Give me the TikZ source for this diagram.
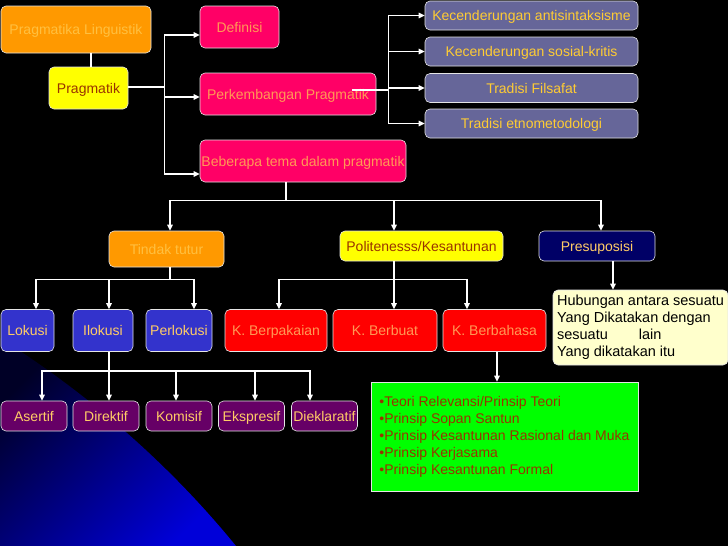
\documentclass[tikz,border=0pt]{standalone}
\usepackage{fontspec}
\setmainfont{Liberation Sans}
\usetikzlibrary{arrows.meta}

\definecolor{boxorange}{HTML}{FF9900}
\definecolor{txtorange}{HTML}{FFC040}
\definecolor{boxyellow}{HTML}{FFFF00}
\definecolor{txtbrown}{HTML}{993300}
\definecolor{boxmagenta}{HTML}{FF0066}
\definecolor{txtpeach}{HTML}{FF9955}
\definecolor{boxslate}{HTML}{666699}
\definecolor{txtgold}{HTML}{FFCC33}
\definecolor{boxnavy}{HTML}{000066}
\definecolor{txtcream}{HTML}{FFCC66}
\definecolor{boxblue}{HTML}{3333CC}
\definecolor{boxred}{HTML}{FF0000}
\definecolor{boxplum}{HTML}{660066}
\definecolor{boxivory}{HTML}{FFFFCC}
\definecolor{boxgreen}{HTML}{00FF00}

\begin{document}
\begin{tikzpicture}[x=1pt, y=-1pt, >={Triangle[length=6pt,width=5.5pt]},
    box/.style={rounded corners=5pt, draw=white!80!gray, line width=0.6pt,
        inner sep=0pt, align=center, font=\fontsize{14}{17}\selectfont},
    oneline/.style={box, text height=11pt, text depth=0.5pt},
    orangebox/.style={oneline, fill=boxorange, text=txtorange},
    yellowbox/.style={oneline, fill=boxyellow, text=txtbrown},
    magentabox/.style={oneline, fill=boxmagenta, text=txtpeach},
    slatebox/.style={oneline, fill=boxslate, text=txtgold, minimum width=213pt, minimum height=29pt},
    navybox/.style={oneline, fill=boxnavy, text=txtcream},
    bluebox/.style={oneline, fill=boxblue, text=txtcream, minimum height=42pt},
    redbox/.style={oneline, fill=boxred, text=txtpeach, minimum height=42pt},
    plumbox/.style={oneline, fill=boxplum, text=txtcream, minimum width=66pt, minimum height=30pt},
    wire/.style={draw=white, line width=1.6pt},
    arr/.style={wire, ->}]

    % --- BACKGROUND ---
    \useasboundingbox (0,0) rectangle (728,546);
    \fill[black] (0,0) rectangle (728,546);
    \shade[left color=blue!15!black, right color=blue!85!black, shading angle=45]
        (0,338) .. controls (90,395) and (170,465) .. (236,546) -- (0,546) -- cycle;

    % --- TOP LEFT ---
    \node[orangebox, minimum width=150pt, minimum height=47pt] (ling) at (76,29.5) {Pragmatika Linguistik};
    \node[yellowbox, minimum width=79pt, minimum height=42pt] (prag) at (88.5,88) {Pragmatik};

    % --- PINK BRANCH ---
    \node[magentabox, minimum width=79pt, minimum height=42pt] (def) at (239.5,27) {Definisi};
    \node[magentabox, minimum width=176pt, minimum height=42pt] (perk) at (288,94) {Perkembangan Pragmatik};
    \node[magentabox, minimum width=206pt, minimum height=42pt] (tema) at (303,161) {Beberapa tema dalam pragmatik};

    % --- TRENDS ---
    \node[slatebox] (k1) at (531.5,15.5) {Kecenderungan antisintaksisme};
    \node[slatebox] (k2) at (531.5,51.5) {Kecenderungan sosial-kritis};
    \node[slatebox] (k3) at (531.5,88) {Tradisi Filsafat};
    \node[slatebox] (k4) at (531.5,123.5) {Tradisi etnometodologi};

    % --- THEMES ---
    \node[orangebox, minimum width=115pt, minimum height=36pt] (tindak) at (166.5,249) {Tindak tutur};
    \node[yellowbox, minimum width=163pt, minimum height=30pt] (polite) at (421.5,246) {Politenesss/Kesantunan};
    \node[navybox, minimum width=116pt, minimum height=30pt] (presup) at (597,246) {Presuposisi};

    % --- SPEECH ACTS ---
    \node[bluebox, minimum width=53pt] (lok) at (27.5,330.5) {Lokusi};
    \node[bluebox, minimum width=60pt] (ilok) at (103,330.5) {Ilokusi};
    \node[bluebox, minimum width=66pt] (perl) at (179,330.5) {Perlokusi};

    % --- POLITENESS KINDS ---
    \node[redbox, minimum width=102pt] (pakai) at (276,330.5) {K. Berpakaian};
    \node[redbox, minimum width=104pt] (buat) at (385,330.5) {K. Berbuat};
    \node[redbox, minimum width=103pt] (bahasa) at (494.5,330.5) {K. Berbahasa};

    % --- PRESUPPOSITION NOTE ---
    \node[box, fill=boxivory, text=black, align=left, font=\fontsize{14.5}{17}\selectfont,
        minimum width=175pt, minimum height=75pt]
        (hub) at (640.5,327.5) {Hubungan antara sesuatu\\Yang Dikatakan dengan\\sesuatu\hspace*{31pt}lain\\Yang dikatakan itu};

    % --- ILLOCUTION KINDS ---
    \node[plumbox] (aser) at (34,416) {Asertif};
    \node[plumbox] (direk) at (106,416) {Direktif};
    \node[plumbox] (komis) at (179,416) {Komisif};
    \node[plumbox] (ekspr) at (251.5,416) {Ekspresif};
    \node[plumbox] (diekl) at (324.5,416) {Dieklaratif};

    % --- PRINCIPLES ---
    \node[box, rounded corners=0pt, fill=boxgreen, text=txtbrown, align=left, minimum width=267pt, minimum height=109pt]
        (prin) at (504.5,436.5) {•Teori Relevansi/Prinsip Teori\\•Prinsip Sopan Santun\\•Prinsip Kesantunan Rasional dan Muka\\•Prinsip Kerjasama\\•Prinsip Kesantunan Formal};

    % =========================================
    % CONNECTORS
    % =========================================
    \draw[wire] ([xshift=2.5pt]prag.north) -- ([xshift=2.5pt]prag.north |- ling.south);

    \draw[wire] ([yshift=1pt]prag.east) -- ++(36,0) coordinate (b1);
    \draw[arr] (b1) |- ([yshift=-8pt]def.west);
    \draw[arr] (b1) |- ([yshift=-3pt]perk.west);
    \draw[arr] (b1) |- ([yshift=-13pt]tema.west);

    \draw[wire] ([xshift=-24pt,yshift=4pt]perk.east) -- ++(36,0) coordinate (b2);
    \foreach \k in {k1, k2, k3, k4} {
        \draw[arr] (b2) |- (\k.west);
    }

    \draw[wire] ([xshift=-17pt]tema.south) -- ++(0,18) coordinate (b3);
    \draw[arr] (b3) -| ([xshift=3.5pt]tindak.north);
    \draw[arr] (b3) -| ([xshift=-27.5pt]polite.north);
    \draw[arr] (b3) -| ([xshift=4pt]presup.north);

    \draw[wire] ([xshift=3.5pt]tindak.south) -- ++(0,12) coordinate (b4);
    \draw[arr] (b4) -| ([xshift=8.5pt]lok.north);
    \draw[arr] (b4) -| ([xshift=6pt]ilok.north);
    \draw[arr] (b4) -| ([xshift=15pt]perl.north);

    \draw[wire] ([xshift=-27.5pt]polite.south) -- ++(0,18) coordinate (b5);
    \draw[arr] (b5) -| ([xshift=3pt]pakai.north);
    \draw[arr] (b5) -| ([xshift=9pt]buat.north);
    \draw[arr] (b5) -| ([xshift=-27.5pt]bahasa.north);

    \draw[arr] ([xshift=16pt]presup.south) -- ([xshift=16pt]presup.south |- hub.north);

    \draw[wire] ([xshift=6pt]ilok.south) -- ++(0,19) coordinate (b6);
    \draw[arr] (b6) -| ([xshift=8pt]aser.north);
    \draw[arr] (b6) -| ([xshift=3pt]direk.north);
    \draw[arr] (b6) -| ([xshift=-3pt]komis.north);
    \draw[arr] (b6) -| ([xshift=3.5pt]ekspr.north);
    \draw[arr] (b6) -| ([xshift=-14.5pt]diekl.north);

    \draw[arr] ([xshift=2.5pt]bahasa.south) -- ([xshift=2.5pt]bahasa.south |- prin.north);

\end{tikzpicture}
\end{document}
